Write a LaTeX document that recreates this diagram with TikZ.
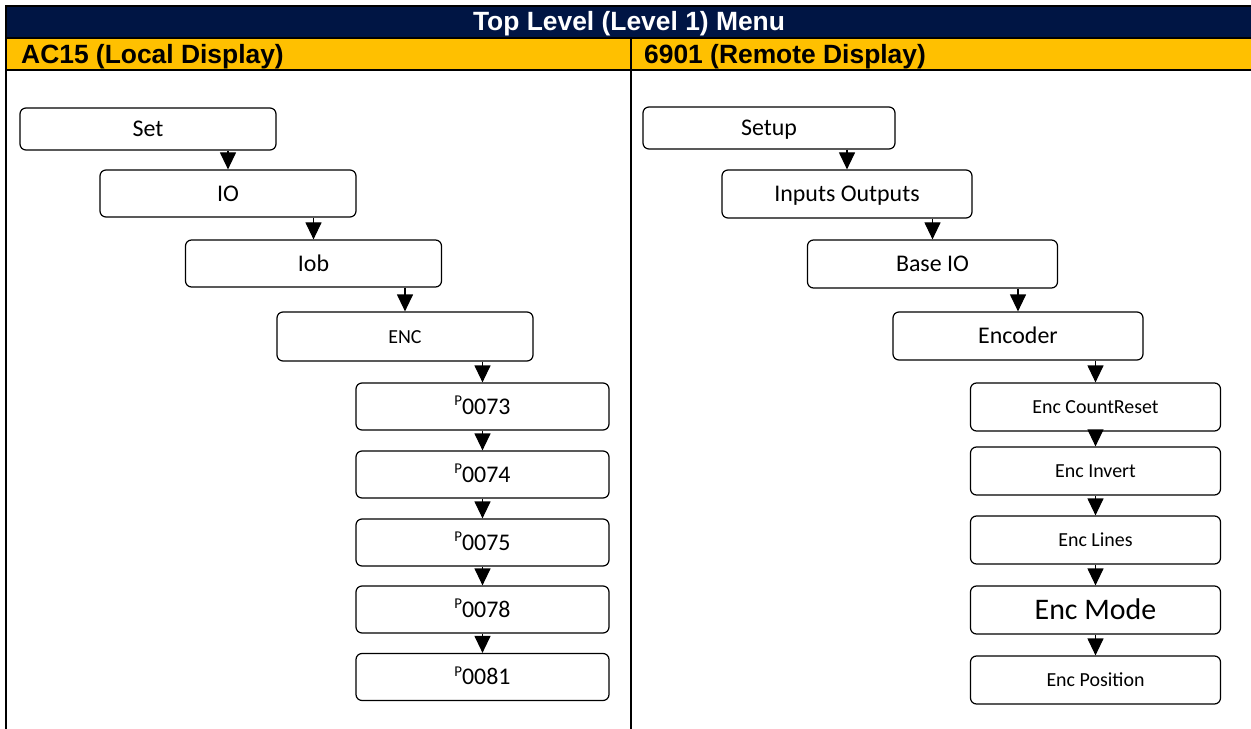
\documentclass[tikz,border=0pt]{standalone}
\usepackage{fontspec}
\setmainfont{Carlito}
\newfontfamily\headfont{Liberation Sans}
\usepackage{tikz}
\usetikzlibrary{arrows.meta}
\definecolor{navyband}{RGB}{0,21,68}
\definecolor{goldband}{RGB}{255,192,0}
\newcommand{\pnum}[1]{\raisebox{0.36em}{\fontsize{15}{15}\selectfont P}#1}

\begin{document}
\begin{tikzpicture}[x=1bp,y=-1bp,>={Triangle[width=16bp,length=17bp]},
  menubox/.style={draw,line width=1.2bp,rounded corners=6bp,minimum width=256bp,
    minimum height=47bp,inner sep=0pt,font=\fontsize{24}{28}\selectfont,
    text height=15.5bp,text depth=0bp},
  rightbox/.style={menubox,minimum width=250bp,minimum height=48bp},
  smalltext/.style={font=\fontsize{20}{24}\selectfont,text height=13bp},
  bigtext/.style={font=\fontsize{30}{34}\selectfont,text height=19.5bp},
  headtext/.style={inner sep=0pt,font=\headfont\bfseries\fontsize{26.5}{30}\selectfont},
  flow/.style={->,line width=1.2bp},
  rule/.style={line width=2bp}]
  \useasboundingbox (0,0) rectangle (1251,729);
  % Header bands
  \fill[navyband] (6,6) rectangle (1251,38.5);
  \fill[goldband] (6,38.5) rectangle (1251,70);
  \draw[rule] (1251,6) -- (5.5,6) -- (5.5,729);
  \draw[rule] (5.5,38.5) -- (1251,38.5);
  \draw[rule] (5.5,70) -- (1251,70);
  \draw[rule] (631,38.5) -- (631,729);
  \node[headtext,text=white,anchor=base] (title) at (629,31) {Top Level (Level 1) Menu};
  \node[headtext,anchor=base west] (lefthead) at (21,64) {AC15 (Local Display)};
  \node[headtext,anchor=base west] (righthead) at (644,64) {6901 (Remote Display)};
  % AC15 menu chain
  \node[menubox,minimum height=42bp] (set) at (148,129) {Set};
  \node[menubox] (io) at (228,193.5) {IO};
  \node[menubox] (iob) at (313.5,263.5) {Iob};
  \node[menubox,smalltext,minimum height=49bp] (enc) at (405,336.5) {ENC};
  \node[menubox,minimum width=253bp] (p73) at (482.5,406.5) {\pnum{0073}};
  \node[menubox,minimum width=253bp] (p74) at (482.5,474.5) {\pnum{0074}};
  \node[menubox,minimum width=253bp] (p75) at (482.5,542.5) {\pnum{0075}};
  \node[menubox,minimum width=253bp] (p78) at (482.5,609.5) {\pnum{0078}};
  \node[menubox,minimum width=253bp] (p81) at (482.5,677) {\pnum{0081}};
  % 6901 menu chain
  \node[rightbox,minimum width=252bp,minimum height=42bp] (setup) at (769,128) {Setup};
  \node[rightbox] (inout) at (847,194) {Inputs Outputs};
  \node[rightbox] (baseio) at (932.5,264) {Base IO};
  \node[rightbox] (encoder) at (1018,336) {Encoder};
  \node[rightbox,smalltext] (cntreset) at (1095.5,407) {Enc CountReset};
  \node[rightbox,smalltext] (invert) at (1095.5,471) {Enc Invert};
  \node[rightbox,smalltext] (lines) at (1095.5,540) {Enc Lines};
  \node[rightbox,bigtext] (mode) at (1095.5,610) {Enc Mode};
  \node[rightbox,smalltext] (position) at (1095.5,680) {Enc Position};
  % Arrows
  \foreach \a/\b in {set/io,io/iob,iob/enc,enc/p73,p73/p74,p74/p75,p75/p78,p78/p81,
      setup/inout,inout/baseio,baseio/encoder,encoder/cntreset,cntreset/invert,
      invert/lines,lines/mode,mode/position}
    \draw[flow] (\a.south -| \b.north) -- (\b.north);
\end{tikzpicture}
\end{document}
